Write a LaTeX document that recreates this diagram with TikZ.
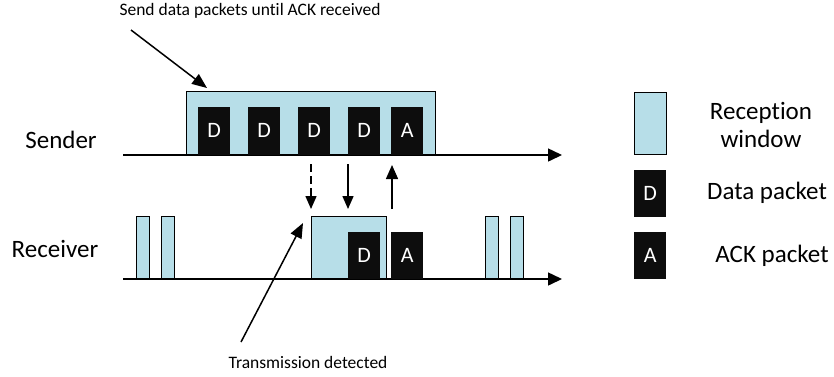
\documentclass[tikz,border=0pt]{standalone}
\usepackage{fontspec}
\setmainfont[Ligatures=NoCommon]{Carlito}
\usetikzlibrary{arrows.meta}
\definecolor{winblue}{RGB}{183,222,232}
\definecolor{pktblack}{RGB}{13,13,13}
\tikzset{
  win/.style={draw=black,fill=winblue,line width=1pt,inner sep=0pt,anchor=south west},
  pkt/.style={fill=pktblack,text=white,inner sep=0pt,anchor=south west,
    minimum width=32pt,minimum height=48pt,font=\fontsize{22}{24}\selectfont},
  lbl/.style={font=\fontsize{25}{28}\selectfont,align=center},
  note/.style={font=\fontsize{17.5}{20}\selectfont},
  axis/.style={line width=1.5pt,-{Triangle[length=14pt,width=13pt]}},
  sig/.style={line width=1.5pt,-{Triangle[length=13pt,width=11pt]}}
}
\begin{document}
\begin{tikzpicture}[x=1pt,y=-1pt]
\useasboundingbox(0,0)rectangle(834,376);
% time lines
\coordinate(s0)at(123,155);\coordinate(s1)at(562,155);
\coordinate(r0)at(123,279);\coordinate(r1)at(562,279);
\draw[axis](s0)--(s1);
\draw[axis](r0)--(r1);
\node[lbl]at(61,140){Sender};
\node[lbl]at(55,249){Receiver};
% sender window and packets
\node[win,minimum width=249pt,minimum height=63pt](swin)at(186,155){};
\node[pkt](d1)at(198,155){D};
\node[pkt](d2)at(248,155){D};
\node[pkt](d3)at(298,155){D};
\node[pkt](d4)at(348,155){D};
\node[pkt](a1)at(391,155){A};
% receiver windows and packets
\node[win,minimum width=13pt,minimum height=62pt](w1)at(136,279){};
\node[win,minimum width=13pt,minimum height=62pt](w2)at(161,279){};
\node[win,minimum width=75pt,minimum height=62pt](rwin)at(311,279){};
\node[win,minimum width=13pt,minimum height=62pt](w3)at(485,279){};
\node[win,minimum width=13pt,minimum height=62pt](w4)at(510,279){};
\node[pkt,minimum height=47pt](rd)at(348,279){D};
\node[pkt,minimum height=47pt](ra)at(391,279){A};
% signals between the two lines
\coordinate(t1)at(311,164);\coordinate(t2)at(348,164);\coordinate(t3)at(392,165);
\coordinate(b1)at(311,209);\coordinate(b2)at(348,209);\coordinate(b3)at(392,209);
\draw[sig,dash pattern=on 8pt off 4pt](t1)--(b1);
\draw[sig](t2)--(b2);
\draw[sig,-{Triangle[length=14pt,width=12pt]}](b3)--(t3);
% notes
\node[note](send)at(250,11){Send data packets until ACK received};
\draw[sig,-{Triangle[length=15pt,width=12pt]}](131,30)--(207,88);
\node[note](det)at(308,362){Transmission detected};
\draw[sig,-{Triangle[length=15pt,width=12pt]}](241,342)--(303,223);
% legend
\node[win,minimum width=32pt,minimum height=62pt](lw)at(634,155){};
\node[pkt,minimum height=47pt](ld)at(634,217){D};
\node[pkt,minimum height=47pt](la)at(634,279){A};
\node[lbl]at(761,125){Reception\\window};
\node[lbl]at(767,193){Data packet};
\node[lbl]at(772,256){ACK packet};
\end{tikzpicture}
\end{document}
